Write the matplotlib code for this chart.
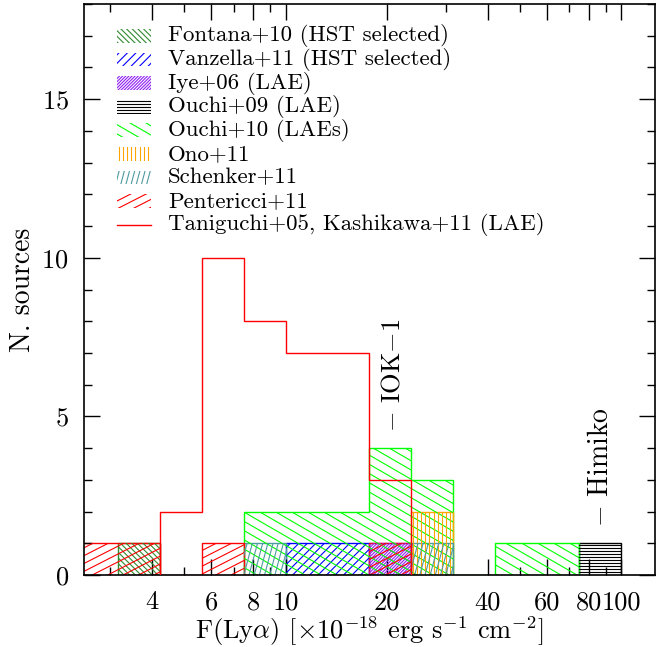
import numpy as np
import matplotlib
matplotlib.use('Agg')
import matplotlib.pyplot as plt
from matplotlib.collections import LineCollection
from matplotlib.patches import Rectangle
from matplotlib.ticker import FixedLocator, FixedFormatter, MultipleLocator

plt.rcParams['font.family'] = ['cmr10', 'DejaVu Serif']
plt.rcParams['mathtext.fontset'] = 'cm'
plt.rcParams['axes.formatter.use_mathtext'] = True

# log10 F(Lya) bin edges, 0.125 dex bins
log_edges = [0.375, 0.5, 0.625, 0.75, 0.875, 1.0, 1.125, 1.25,
             1.375, 1.5, 1.625, 1.75, 1.875, 2.0]

# counts per bin
fontana10 = [0, 1, 0, 0, 0, 0, 0, 0, 0, 0, 0, 0, 0]
vanzella11 = [0, 0, 0, 0, 0, 1, 1, 0, 0, 0, 0, 0, 0]
iye06 = [0, 0, 0, 0, 0, 0, 0, 1, 0, 0, 0, 0, 0]
ouchi09 = [0, 0, 0, 0, 0, 0, 0, 0, 0, 0, 0, 0, 1]
ouchi10 = [0, 0, 0, 0, 2, 2, 2, 4, 3, 0, 1, 1, 0]
ono11 = [0, 0, 0, 0, 0, 0, 0, 0, 2, 0, 0, 0, 0]
schenker11 = [0, 0, 0, 0, 1, 0, 0, 0, 1, 0, 0, 0, 0]
pentericci11 = [1, 1, 0, 1, 0, 0, 0, 1, 0, 0, 0, 0, 0]
taniguchi_kashikawa = [0, 0, 2, 10, 8, 7, 7, 3, 0, 0, 0, 0, 0]

labels = ['Fontana+10 (HST selected)', 'Vanzella+11 (HST selected)',
          'Iye+06 (LAE)', 'Ouchi+09 (LAE)', 'Ouchi+10 (LAEs)', 'Ono+11',
          'Schenker+11', 'Pentericci+11']
# style: color, hatch angle (deg), spacing (px)
styles = [('#2f8a2f', -45, 4.0), ('#0000ff', 45, 6.0), ('#9020f0', 45, 2.2),
          ('#000000', 0, 3.0), ('#00ff00', -30, 8.0), ('#ffa500', 90, 4.2),
          ('#4f9aa0', 75, 5.0), ('#ff0000', 27, 7.0)]
series = [fontana10, vanzella11, iye06, ouchi09, ouchi10, ono11, schenker11, pentericci11]

fig = plt.figure(figsize=(6.68, 6.47), dpi=100)
ax = fig.add_axes([84 / 668, 72 / 647, 571 / 668, 571 / 647])
W = 571.0
H = 571.0

def hatch(clip, angle, step, color, lw=0.8):
    th = np.radians(angle)
    dx, dy = np.cos(th), np.sin(th)
    nx, ny = -dy, dx
    R = np.hypot(W, H)
    segs = []
    for t in np.arange(-R, R, step):
        cx, cy = W / 2 + t * nx, H / 2 + t * ny
        segs.append([((cx - R * dx) / W, (cy - R * dy) / H),
                     ((cx + R * dx) / W, (cy + R * dy) / H)])
    lc = LineCollection(segs, colors=color, linewidths=lw, transform=ax.transAxes)
    ax.add_collection(lc, autolim=False)
    lc.set_clip_path(clip)

edges = 10 ** np.array(log_edges)

def trimmed(vals):
    v = np.array(vals, dtype=float)
    nz = np.nonzero(v)[0]
    i0, i1 = nz[0], nz[-1] + 1
    return v[i0:i1], edges[i0:i1 + 1]

for vals, (col, ang, sp) in zip(series, styles):
    v, e = trimmed(vals)
    st = ax.stairs(v, e, baseline=0, fill=True, facecolor='none',
                   edgecolor=col, linewidth=1.0)
    hatch(st, ang, sp, col)

v, e = trimmed(taniguchi_kashikawa)
ax.stairs(v, e, baseline=0, fill=False, color='#ff0000', linewidth=1.0, zorder=3)

# legend drawn by hand so the hatch angles match
y0 = 0.944
dy = 0.0413
for i, (lab, (col, ang, sp)) in enumerate(zip(labels, styles)):
    yc = y0 - i * dy
    r = Rectangle((0.058, yc - 0.012), 0.059, 0.024, transform=ax.transAxes,
                  facecolor='none', edgecolor='none')
    ax.add_patch(r)
    hatch(r, ang, sp, col)
    ax.text(0.147, yc, lab, transform=ax.transAxes, fontsize=16.5, va='center', ha='left')
yc = y0 - 8 * dy
ax.plot([0.058, 0.117], [yc, yc], color='#ff0000', lw=1.0, transform=ax.transAxes)
ax.text(0.147, yc, 'Taniguchi+05, Kashikawa+11 (LAE)', transform=ax.transAxes,
        fontsize=16.5, va='center', ha='left')

# named objects
ax.text(10 ** 1.319, 4.5, r'$-$ IOK$-$1', rotation=90, ha='center', va='bottom', fontsize=19)
ax.text(10 ** 1.94, 1.5, r'$-$ Himiko', rotation=90, ha='center', va='bottom', fontsize=20)

ax.set_xscale('log')
ax.set_xlim(10 ** 0.4, 10 ** 2.1)
ax.set_ylim(0, 18)
major = [4, 6, 8, 10, 20, 40, 60, 80, 100]
ax.xaxis.set_major_locator(FixedLocator(major))
ax.xaxis.set_major_formatter(FixedFormatter([str(m) for m in major]))
ax.xaxis.set_minor_locator(FixedLocator([3, 5, 7, 9, 30, 50, 70, 90]))
ax.xaxis.set_minor_formatter(FixedFormatter([''] * 8))
ax.yaxis.set_major_locator(MultipleLocator(5))
ax.yaxis.set_minor_locator(MultipleLocator(1))
ax.tick_params(which='both', direction='in', top=True, right=True, labelsize=19)
ax.tick_params(which='major', length=11.5, width=1.0)
ax.tick_params(which='minor', length=5.8, width=1.0)
ax.tick_params(axis='x', pad=11)
ax.tick_params(axis='y', pad=11)
for s in ax.spines.values():
    s.set_linewidth(1.2)

ax.set_xlabel(r'F(Ly$\alpha$) [$\times$10$^{-18}$ erg s$^{-1}$ cm$^{-2}$]', fontsize=19, labelpad=0)
ax.set_ylabel('N. sources', fontsize=20, labelpad=4)

fig.savefig('out.png', dpi=100)
